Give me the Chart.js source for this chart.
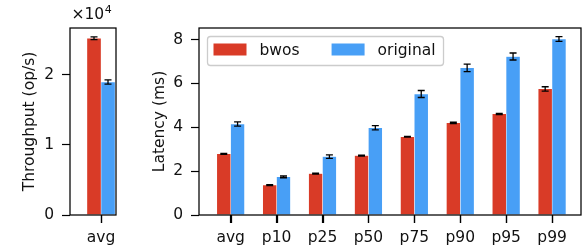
<!DOCTYPE html>
<html>
<head>
<meta charset="utf-8">
<script src="https://cdn.jsdelivr.net/npm/chart.js@4.4.1/dist/chart.umd.min.js"></script>
<style>
  body { margin: 0; background: #fff; }
  #wrap { position: relative; width: 582px; height: 251px; }
  canvas { position: absolute; top: 0; }
</style>
</head>
<body>
<div id="wrap">
  <canvas id="thrChart" width="125" height="251" style="left:0"></canvas>
  <canvas id="latChart" width="457" height="251" style="left:125px"></canvas>
</div>
<script>
// dados
const seriesNames = ['bwos', 'original'];
const thrCategories = ['avg'];
const thrBwos = [25170];
const thrOriginal = [18950];
const thrBwosErr = [200];
const thrOriginalErr = [300];
const thrTicks = [0, 10000, 20000];

const latCategories = ['avg', 'p10', 'p25', 'p50', 'p75', 'p90', 'p95', 'p99'];
const latBwos = [2.79, 1.36, 1.89, 2.71, 3.57, 4.2, 4.61, 5.75];
const latOriginal = [4.15, 1.74, 2.66, 3.98, 5.52, 6.71, 7.23, 8.03];
const latBwosErr = [0.02, 0.02, 0.02, 0.02, 0.02, 0.03, 0.03, 0.1];
const latOriginalErr = [0.1, 0.04, 0.08, 0.1, 0.16, 0.17, 0.16, 0.11];
const latTicks = [0, 2, 4, 6, 8];

const RED = '#d93b27';
const BLUE = '#489ff6';
const FONT = "'DejaVu Sans', sans-serif";
const FS = 15.5;
const TICK_LEN = 8;

Chart.defaults.font.family = FONT;
Chart.defaults.color = '#111';

const toPoints = (vals) => vals.map((v, i) => ({ x: i, y: v }));

// caixa dos eixos + marcas do eixo x
const frame = {
    id: 'frame',
    afterDraw(chart) {
        const { ctx, chartArea: a } = chart;
        const xs = chart.scales.x;
        ctx.save();
        ctx.strokeStyle = '#000';
        ctx.lineWidth = 1.25;
        ctx.strokeRect(a.left, a.top, a.right - a.left, a.bottom - a.top);
        ctx.beginPath();
        xs.ticks.forEach((t) => {
            const px = Math.round(xs.getPixelForValue(t.value)) + 0.5;
            ctx.moveTo(px, a.bottom);
            ctx.lineTo(px, a.bottom + TICK_LEN);
        });
        ctx.stroke();
        ctx.restore();
    }
};

// barras de erro
const errorBars = {
    id: 'errorBars',
    afterDatasetsDraw(chart) {
        const { ctx } = chart;
        const yScale = chart.scales.y;
        ctx.save();
        ctx.strokeStyle = '#000';
        ctx.lineWidth = 1.3;
        chart.data.datasets.forEach((ds, di) => {
            const meta = chart.getDatasetMeta(di);
            meta.data.forEach((bar, i) => {
                const v = ds.data[i].y;
                const e = ds.errors[i];
                const y1 = yScale.getPixelForValue(v - e);
                const y2 = yScale.getPixelForValue(v + e);
                const x = bar.x;
                ctx.beginPath();
                ctx.moveTo(x, y1); ctx.lineTo(x, y2);
                ctx.moveTo(x - 3.5, y1); ctx.lineTo(x + 3.5, y1);
                ctx.moveTo(x - 3.5, y2); ctx.lineTo(x + 3.5, y2);
                ctx.stroke();
            });
        });
        ctx.restore();
    }
};

// legenda dentro do grafico
const boxLegend = {
    id: 'boxLegend',
    afterDraw(chart) {
        const { ctx, chartArea: a } = chart;
        const x0 = a.left + 8.5, y0 = a.top + 8.5;
        const patchW = 33, patchH = 12, textPad = 13, colSpace = 32;
        ctx.save();
        ctx.font = FS + 'px ' + FONT;
        let w = 6;
        chart.data.datasets.forEach((ds, i) => {
            w += patchW + textPad + ctx.measureText(ds.label).width;
            if (i < chart.data.datasets.length - 1) w += colSpace;
        });
        w += 8;
        ctx.fillStyle = 'rgba(255,255,255,0.8)';
        ctx.strokeStyle = '#cccccc';
        ctx.lineWidth = 1.3;
        ctx.beginPath();
        ctx.roundRect(x0, y0, w, 29, 3);
        ctx.fill();
        ctx.stroke();
        let x = x0 + 6;
        const ym = y0 + 13;
        ctx.textBaseline = 'middle';
        chart.data.datasets.forEach((ds) => {
            ctx.fillStyle = ds.backgroundColor;
            ctx.fillRect(x, ym - patchH / 2, patchW, patchH);
            x += patchW + textPad;
            ctx.fillStyle = '#111';
            ctx.fillText(ds.label, x, ym + 1);
            x += ctx.measureText(ds.label).width + colSpace;
        });
        ctx.restore();
    }
};

// fator de escala x10^4
const sciLabel = {
    id: 'sciLabel',
    afterDraw(chart) {
        const { ctx, chartArea: a } = chart;
        ctx.save();
        ctx.fillStyle = '#111';
        ctx.textBaseline = 'alphabetic';
        ctx.font = FS + 'px ' + FONT;
        ctx.fillText('\u00d710', a.left + 1.5, 19);
        const w = ctx.measureText('\u00d710').width;
        ctx.font = '11px ' + FONT;
        ctx.fillText('4', a.left + 2 + w, 12.5);
        ctx.restore();
    }
};

function makeOptions(cfg) {
    return {
        responsive: false,
        animation: false,
        layout: { padding: { top: 28, right: cfg.padRight, left: 0, bottom: 0 } },
        plugins: { legend: { display: false }, tooltip: { enabled: false } },
        scales: {
            x: {
                type: 'linear',
                min: cfg.xMin,
                max: cfg.xMax,
                offset: false,
                afterFit: (s) => { s.height = 36; },
                afterBuildTicks: (s) => { s.ticks = cfg.categories.map((c, i) => ({ value: i })); },
                border: { display: false },
                grid: { offset: false, drawOnChartArea: false, drawTicks: true, tickLength: TICK_LEN, tickWidth: 1.2, tickColor: '#000' },
                ticks: {
                    autoSkip: false, maxRotation: 0, padding: 6,
                    font: { size: FS },
                    callback: (v) => cfg.categories[v]
                }
            },
            y: {
                min: 0,
                max: cfg.yMax,
                afterFit: (s) => { s.width = cfg.yWidth; },
                afterBuildTicks: (s) => { s.ticks = cfg.yTicks.map((v) => ({ value: v })); },
                border: { display: false },
                grid: { drawOnChartArea: false, drawTicks: true, tickLength: TICK_LEN, tickWidth: 1.2, tickColor: '#000' },
                ticks: { padding: 8, font: { size: FS }, callback: cfg.yFormat },
                title: {
                    display: true,
                    text: cfg.yTitle,
                    font: { size: FS },
                    padding: { top: cfg.titlePad, bottom: 0 }
                }
            }
        }
    };
}

function makeDatasets(a, b, ea, eb, thickness) {
    return [
        { label: seriesNames[0], data: toPoints(a), errors: ea, backgroundColor: RED,
          borderColor: '#fff', borderWidth: 0.5, barThickness: thickness },
        { label: seriesNames[1], data: toPoints(b), errors: eb, backgroundColor: BLUE,
          borderColor: '#fff', borderWidth: 0.5, barThickness: thickness }
    ];
}

new Chart(document.getElementById('thrChart').getContext('2d'), {
    type: 'bar',
    data: { datasets: makeDatasets(thrBwos, thrOriginal, thrBwosErr, thrOriginalErr, 14) },
    options: makeOptions({
        categories: thrCategories, xMin: -0.664, xMax: 0.321, padRight: 9, yWidth: 70,
        yMax: 26640, yTicks: thrTicks, yFormat: (v) => v / 10000,
        yTitle: 'Throughput (op/s)', titlePad: 21
    }),
    plugins: [frame, errorBars, sciLabel]
});

new Chart(document.getElementById('latChart').getContext('2d'), {
    type: 'bar',
    data: { datasets: makeDatasets(latBwos, latOriginal, latBwosErr, latOriginalErr, 13.8) },
    options: makeOptions({
        categories: latCategories, xMin: -0.69, xMax: 7.63, padRight: 1, yWidth: 74,
        yMax: 8.53, yTicks: latTicks, yFormat: (v) => v,
        yTitle: 'Latency (ms)', titlePad: 26
    }),
    plugins: [frame, errorBars, boxLegend]
});
</script>
</body>
</html>
